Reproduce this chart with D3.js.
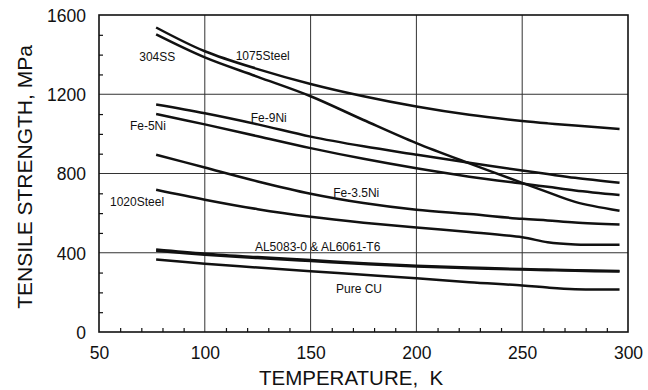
<!DOCTYPE html>
<html>
<head>
<meta charset="utf-8">
<script src="https://cdn.jsdelivr.net/npm/d3@7"></script>
<style>
	html, body { margin: 0; padding: 0; background: #fff; }
	svg text { font-family: Arial, "Liberation Sans", Helvetica, sans-serif; fill: #111; }
</style>
</head>
<body>
<svg id="chart" width="648" height="390"></svg>
<script>
// temperatures (K) at which each curve was read
var temps = [77, 100, 125, 150, 175, 200, 225, 250, 262, 275, 296];

// tensile strength (MPa) of each material at those temperatures
var steel1075 = [1537, 1417, 1327, 1252, 1190, 1138, 1096, 1065, 1053, 1042, 1024];
var ss304     = [1502, 1386, 1288, 1190, 1070, 953, 851, 753, 706, 657, 612];
var fe9ni     = [1148, 1104, 1048, 986, 937, 895, 854, 815, 797, 778, 753];
var fe5ni     = [1100, 1048, 988, 928, 874, 826, 784, 749, 733, 714, 691];
var fe35ni    = [895, 830, 760, 698, 651, 617, 595, 571, 563, 553, 543];
var steel1020 = [718, 668, 620, 582, 552, 527, 505, 478, 453, 442, 440];
var al5083    = [416, 395, 378, 363, 347, 334, 325, 318, 315, 312, 308];
var al6061    = [410, 390, 373, 358, 343, 330, 322, 315, 312, 309, 305];
var pureCu    = [366, 345, 325, 307, 289, 271, 251, 235, 224, 216, 215];

var series = [steel1075, ss304, fe9ni, fe5ni, fe35ni, steel1020, al5083, al6061, pureCu];

// curve labels and where they sit (data units, text start / baseline)
var labelNames = ["304SS", "1075Steel", "Fe-9Ni", "Fe-5Ni", "Fe-3.5Ni", "1020Steel", "AL5083-0 & AL6061-T6", "Pure CU"];
var labelTemps = [69, 114.6, 121.7, 64.6, 160.7, 55.2, 123.7, 162];
var labelVals  = [1368, 1375, 1061, 1019, 682, 637, 410, 198];

var xTicks = [50, 100, 150, 200, 250, 300];
var yTicks = [0, 400, 800, 1200, 1600];

var svg = d3.select("#chart");

var x = d3.scaleLinear().domain([50, 300]).range([99, 628]),
		y = d3.scaleLinear().domain([0, 1600]).range([332, 15]);

// grid
var grid = svg.append("g").attr("class", "grid");
grid.selectAll("line.gx")
	.data(xTicks.slice(1, -1))
	.enter().append("line")
		.attr("x1", function(d) { return x(d); })
		.attr("x2", function(d) { return x(d); })
		.attr("y1", y(0))
		.attr("y2", y(1600))
		.attr("stroke", "#333")
		.attr("stroke-width", 1);
grid.selectAll("line.gy")
	.data(yTicks.slice(1, -1))
	.enter().append("line")
		.attr("x1", x(50))
		.attr("x2", x(300))
		.attr("y1", function(d) { return y(d); })
		.attr("y2", function(d) { return y(d); })
		.attr("stroke", "#333")
		.attr("stroke-width", 1);

// minor ticks, pointing inward
var xMinor = d3.range(60, 300, 10).filter(function(d) { return d % 50; }),
		yMinor = d3.range(100, 1600, 100).filter(function(d) { return d % 400; });

svg.append("g")
	.attr("transform", "translate(0," + y(0) + ")")
	.call(d3.axisBottom(x).tickValues(xMinor).tickSize(-4).tickFormat(""))
	.call(function(g) { g.select(".domain").remove(); })
	.selectAll("line").attr("stroke", "#111").attr("stroke-width", 1.2);

svg.append("g")
	.attr("transform", "translate(" + x(50) + ",0)")
	.call(d3.axisLeft(y).tickValues(yMinor).tickSize(-4).tickFormat(""))
	.call(function(g) { g.select(".domain").remove(); })
	.selectAll("line").attr("stroke", "#111").attr("stroke-width", 1.2);

// tick labels
var xAxis = svg.append("g")
	.attr("transform", "translate(0," + y(0) + ")")
	.call(d3.axisBottom(x).tickValues(xTicks).tickSize(0).tickPadding(15).tickFormat(d3.format("d")));
xAxis.select(".domain").remove();
xAxis.selectAll("text")
	.attr("font-size", "17.5px")
	.attr("font-family", "Arial, 'Liberation Sans', sans-serif")
	.attr("fill", "#111");

var yAxis = svg.append("g")
	.attr("transform", "translate(" + x(50) + ",0)")
	.call(d3.axisLeft(y).tickValues(yTicks).tickSize(0).tickPadding(13).tickFormat(d3.format("d")));
yAxis.select(".domain").remove();
yAxis.selectAll("text")
	.attr("font-size", "17.5px")
	.attr("font-family", "Arial, 'Liberation Sans', sans-serif")
	.attr("dy", "0.36em")
	.attr("fill", "#111");

// frame
svg.append("rect")
	.attr("x", x(50))
	.attr("y", y(1600))
	.attr("width", x(300) - x(50))
	.attr("height", y(0) - y(1600))
	.attr("fill", "none")
	.attr("stroke", "#111")
	.attr("stroke-width", 1.6);

// curves
var line = d3.line()
	.curve(d3.curveCatmullRom.alpha(0.5))
	.x(function(d, i) { return x(temps[i]); })
	.y(function(d) { return y(d); });

svg.append("g").selectAll("path")
	.data(series)
	.enter().append("path")
		.attr("d", line)
		.attr("fill", "none")
		.attr("stroke", "#111")
		.attr("stroke-width", 2.5)
		.attr("stroke-linecap", "butt");

// curve labels
svg.append("g").selectAll("text")
	.data(labelNames)
	.enter().append("text")
		.attr("x", function(d, i) { return x(labelTemps[i]); })
		.attr("y", function(d, i) { return y(labelVals[i]); })
		.attr("font-size", "12px")
		.text(function(d) { return d; });

// axis titles
svg.append("text")
	.attr("x", 259)
	.attr("y", 385)
	.attr("font-size", "20.5px")
	.style("white-space", "pre")
	.text("TEMPERATURE,  K");

svg.append("text")
	.attr("transform", "translate(32,177) rotate(-90)")
	.attr("text-anchor", "middle")
	.attr("font-size", "21px")
	.text("TENSILE STRENGTH, MPa");
</script>
</body>
</html>
